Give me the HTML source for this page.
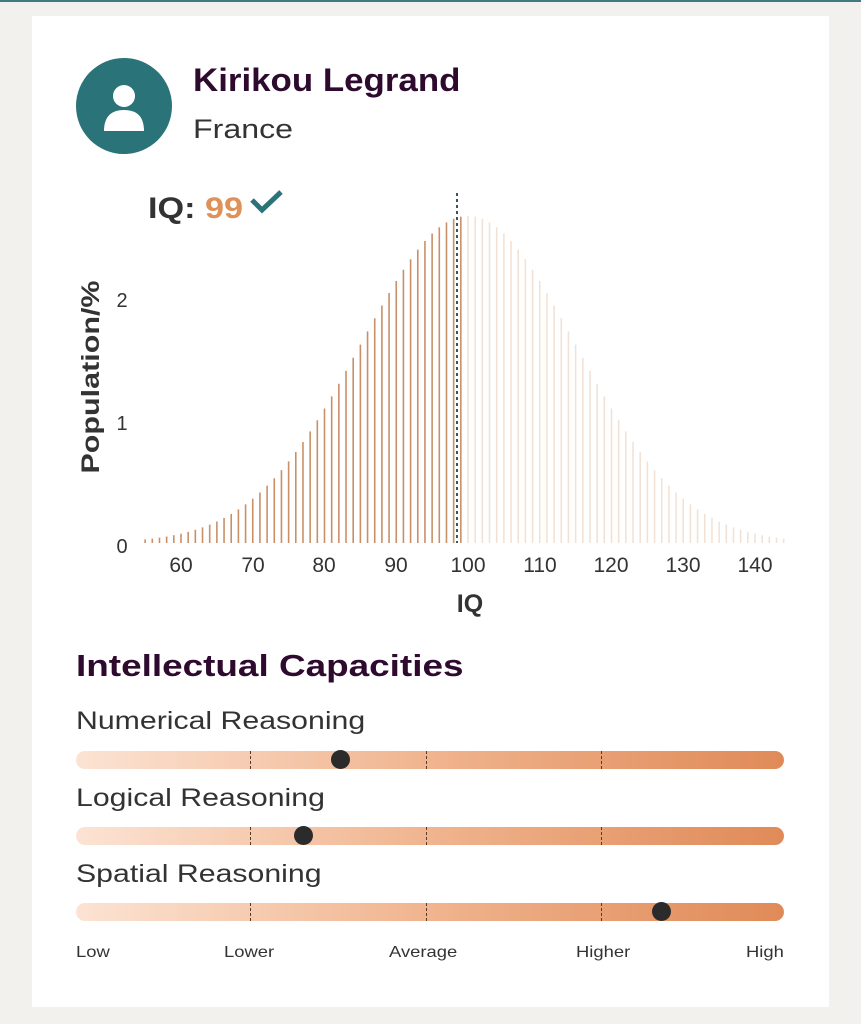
<!DOCTYPE html>
<html><head><meta charset="utf-8"><style>
html,body{margin:0;padding:0;}
body{width:861px;height:1024px;background:#f2f1ee;position:relative;overflow:hidden;font-family:"Liberation Sans",sans-serif;color:#333;}
.topline{position:absolute;left:0;top:0;width:861px;height:2px;background:#3f7a7e;}
.card{position:absolute;left:32px;top:16px;width:797px;height:991px;background:#fff;}
.abs{position:absolute;white-space:nowrap;transform-origin:0 0;}
.track{position:absolute;left:76px;width:708px;height:18px;border-radius:9px;background:linear-gradient(90deg,#fce3d3,#f0b48e 50%,#e08a58);}
.div{position:absolute;width:0;height:18px;border-left:1px dashed #5a3a2a;}
.dot{position:absolute;width:19px;height:19px;border-radius:50%;background:#2b2b2b;}
.lbl{font-size:25px;color:#333;transform:scaleX(1.21);}
.bl{font-size:16px;color:#333;transform:scaleX(1.15);}
</style></head><body>
<div class="topline"></div>
<div class="card"></div>
<svg class="abs" style="left:0;top:0" width="861" height="1024">
<circle cx="124" cy="106" r="48" fill="#2a7378"/>
<circle cx="124" cy="96" r="11" fill="#fff"/>
<path d="M104 131 Q104 110 124 110 Q144 110 144 131 Z" fill="#fff"/>
<polyline points="252,200 262,210 281,192" fill="none" stroke="#2a7378" stroke-width="5"/>
<g id="bars"></g>
<line x1="457" y1="193" x2="457" y2="543" stroke="#2f5a5e" stroke-width="2" stroke-dasharray="3,3"/>
<text x="122" y="553" font-size="20" text-anchor="middle" fill="#333" font-family="Liberation Sans">0</text>
<text x="122" y="430" font-size="20" text-anchor="middle" fill="#333" font-family="Liberation Sans">1</text>
<text x="122" y="307" font-size="20" text-anchor="middle" fill="#333" font-family="Liberation Sans">2</text>
<g font-size="21" fill="#333" text-anchor="middle" font-family="Liberation Sans">
<text x="181" y="572">60</text><text x="253" y="572">70</text><text x="324" y="572">80</text><text x="396" y="572">90</text><text x="468" y="572">100</text><text x="540" y="572">110</text><text x="611" y="572">120</text><text x="683" y="572">130</text><text x="755" y="572">140</text>
</g>
<text x="470" y="612" font-size="25" font-weight="bold" text-anchor="middle" fill="#333" font-family="Liberation Sans">IQ</text>
<text transform="translate(99,377) rotate(-90) scale(1.22,1)" font-size="25" font-weight="bold" text-anchor="middle" fill="#333" font-family="Liberation Sans">Population/%</text>
</svg>
<div class="abs" style="left:193px;top:62px;font-size:32px;font-weight:bold;color:#2e0a2e;transform:scaleX(1.09);">Kirikou Legrand</div>
<div class="abs" style="left:193px;top:114px;font-size:27px;color:#333;transform:scaleX(1.19);">France</div>
<div class="abs" style="left:148px;top:192px;font-size:30px;font-weight:bold;color:#333;transform:scaleX(1.14);">IQ: <span style="color:#de9158">99</span></div>
<div class="abs" style="left:76px;top:648px;font-size:31px;font-weight:bold;color:#2e0a2e;transform:scaleX(1.19);">Intellectual Capacities</div>
<div class="abs lbl" style="left:76px;top:707px;">Numerical Reasoning</div>
<div class="track" style="top:751px"></div>
<div class="abs lbl" style="left:76px;top:784px;">Logical Reasoning</div>
<div class="track" style="top:827px"></div>
<div class="abs lbl" style="left:76px;top:860px;">Spatial Reasoning</div>
<div class="track" style="top:903px"></div>
<div class="div" style="left:250px;top:751px"></div><div class="div" style="left:426px;top:751px"></div><div class="div" style="left:601px;top:751px"></div>
<div class="div" style="left:250px;top:827px"></div><div class="div" style="left:426px;top:827px"></div><div class="div" style="left:601px;top:827px"></div>
<div class="div" style="left:250px;top:903px"></div><div class="div" style="left:426px;top:903px"></div><div class="div" style="left:601px;top:903px"></div>
<div class="dot" style="left:331px;top:750px"></div>
<div class="dot" style="left:294px;top:826px"></div>
<div class="dot" style="left:652px;top:902px"></div>
<div class="abs bl" style="left:76px;top:944px;">Low</div>
<div class="abs bl" style="left:224px;top:944px;">Lower</div>
<div class="abs bl" style="left:389px;top:944px;">Average</div>
<div class="abs bl" style="left:576px;top:944px;">Higher</div>
<div class="abs bl" style="left:746px;top:944px;">High</div>
<script>
var g=document.getElementById('bars'),s='';
for(var iq=55;iq<=144;iq++){
 var x=181+(iq-60)*7.175;
 var p=100*Math.exp(-Math.pow(iq-100,2)/450)/(15*Math.sqrt(2*Math.PI));
 var h=p*123;
 var c=iq<=99?'#c99068':'#f2e2d6';
 s+='<line x1="'+x+'" x2="'+x+'" y1="543" y2="'+(543-h)+'" stroke="'+c+'" stroke-width="1.6"/>';
}
g.innerHTML=s;
</script>
</body></html>
